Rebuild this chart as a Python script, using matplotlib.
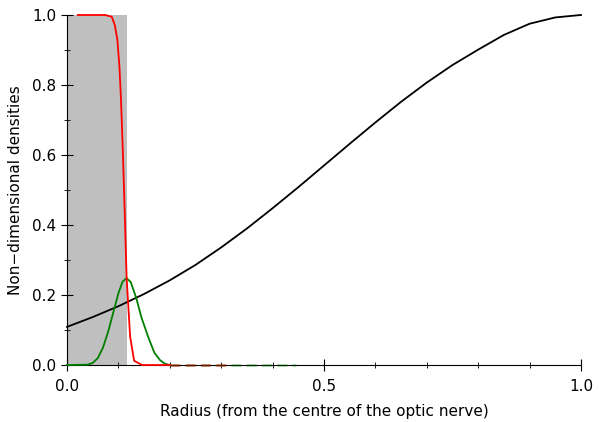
import matplotlib
matplotlib.use("Agg")
import matplotlib.pyplot as plt
from matplotlib.ticker import MultipleLocator

# radio del nervio óptico (zona gris)
nervio_r = 0.116

# curva negra
negra_r = [0.0, 0.05, 0.1, 0.15, 0.2, 0.25, 0.3, 0.35, 0.4, 0.45, 0.5, 0.55,
           0.6, 0.65, 0.7, 0.75, 0.8, 0.85, 0.9, 0.95, 1.0]
negra_v = [0.109, 0.137, 0.168, 0.203, 0.242, 0.286, 0.336, 0.390, 0.448, 0.508,
           0.570, 0.632, 0.693, 0.752, 0.807, 0.857, 0.901, 0.943, 0.975, 0.993, 1.0]

# curva roja
roja_r = [0.021, 0.04, 0.06, 0.074, 0.087, 0.093, 0.098, 0.102, 0.105, 0.1085,
          0.112, 0.116, 0.1228, 0.1306, 0.146, 0.2]
roja_v = [1.0, 1.0, 1.0, 1.0, 0.995, 0.971, 0.929, 0.852, 0.76, 0.614,
          0.45, 0.248, 0.081, 0.012, 0.0, 0.0]

# curva verde
verde_r = [0.0, 0.04, 0.05, 0.06, 0.07, 0.08, 0.09, 0.1, 0.108, 0.116, 0.124,
           0.135, 0.145, 0.158, 0.17, 0.181, 0.19, 0.2]
verde_v = [0.0, 0.001, 0.006, 0.02, 0.05, 0.095, 0.15, 0.205, 0.238, 0.248,
           0.237, 0.19, 0.135, 0.08, 0.035, 0.014, 0.004, 0.0]

# colas (valores nulos) dibujadas a trazos
cola_roja_r = [0.2, 0.31]
cola_verde_r = [0.2, 0.445]

fig = plt.figure(figsize=(6, 4.22), dpi=100)
ax = fig.add_axes([0.1117, 0.135, 0.8566, 0.8295])

ax.axvspan(0, nervio_r, ymin=0, ymax=1, color='#bfbfbf', lw=0)
ax.plot(negra_r, negra_v, color='black', lw=1.3, zorder=3, clip_on=False)
ax.plot(verde_r, verde_v, color='green', lw=1.3, zorder=3, clip_on=False)
ax.plot(cola_verde_r, [0, 0], color='green', lw=2, ls=(0, (3.5, 2)), alpha=0.35, zorder=3, clip_on=False)
ax.plot(roja_r, roja_v, color='red', lw=1.3, zorder=3, clip_on=False)
ax.plot(cola_roja_r, [0, 0], color='red', lw=2, ls=(0, (3.5, 2)), alpha=0.35, zorder=3, clip_on=False)

ax.set_xlim(0, 1)
ax.set_ylim(0, 1)
ax.spines['top'].set_visible(False)
ax.spines['right'].set_visible(False)
ax.xaxis.set_major_locator(MultipleLocator(0.5))
ax.xaxis.set_minor_locator(MultipleLocator(0.1))
ax.yaxis.set_major_locator(MultipleLocator(0.2))
ax.yaxis.set_minor_locator(MultipleLocator(0.1))
ax.tick_params(which='major', direction='inout', length=8, labelsize=11)
ax.tick_params(which='minor', direction='inout', length=4)
ax.tick_params(axis='x', pad=6)

ax.set_xlabel('Radius (from the centre of the optic nerve)', fontsize=11, labelpad=7)
ax.set_ylabel('Non\u2212dimensional densities', fontsize=11, labelpad=7)

fig.savefig('out.png', dpi=100)
